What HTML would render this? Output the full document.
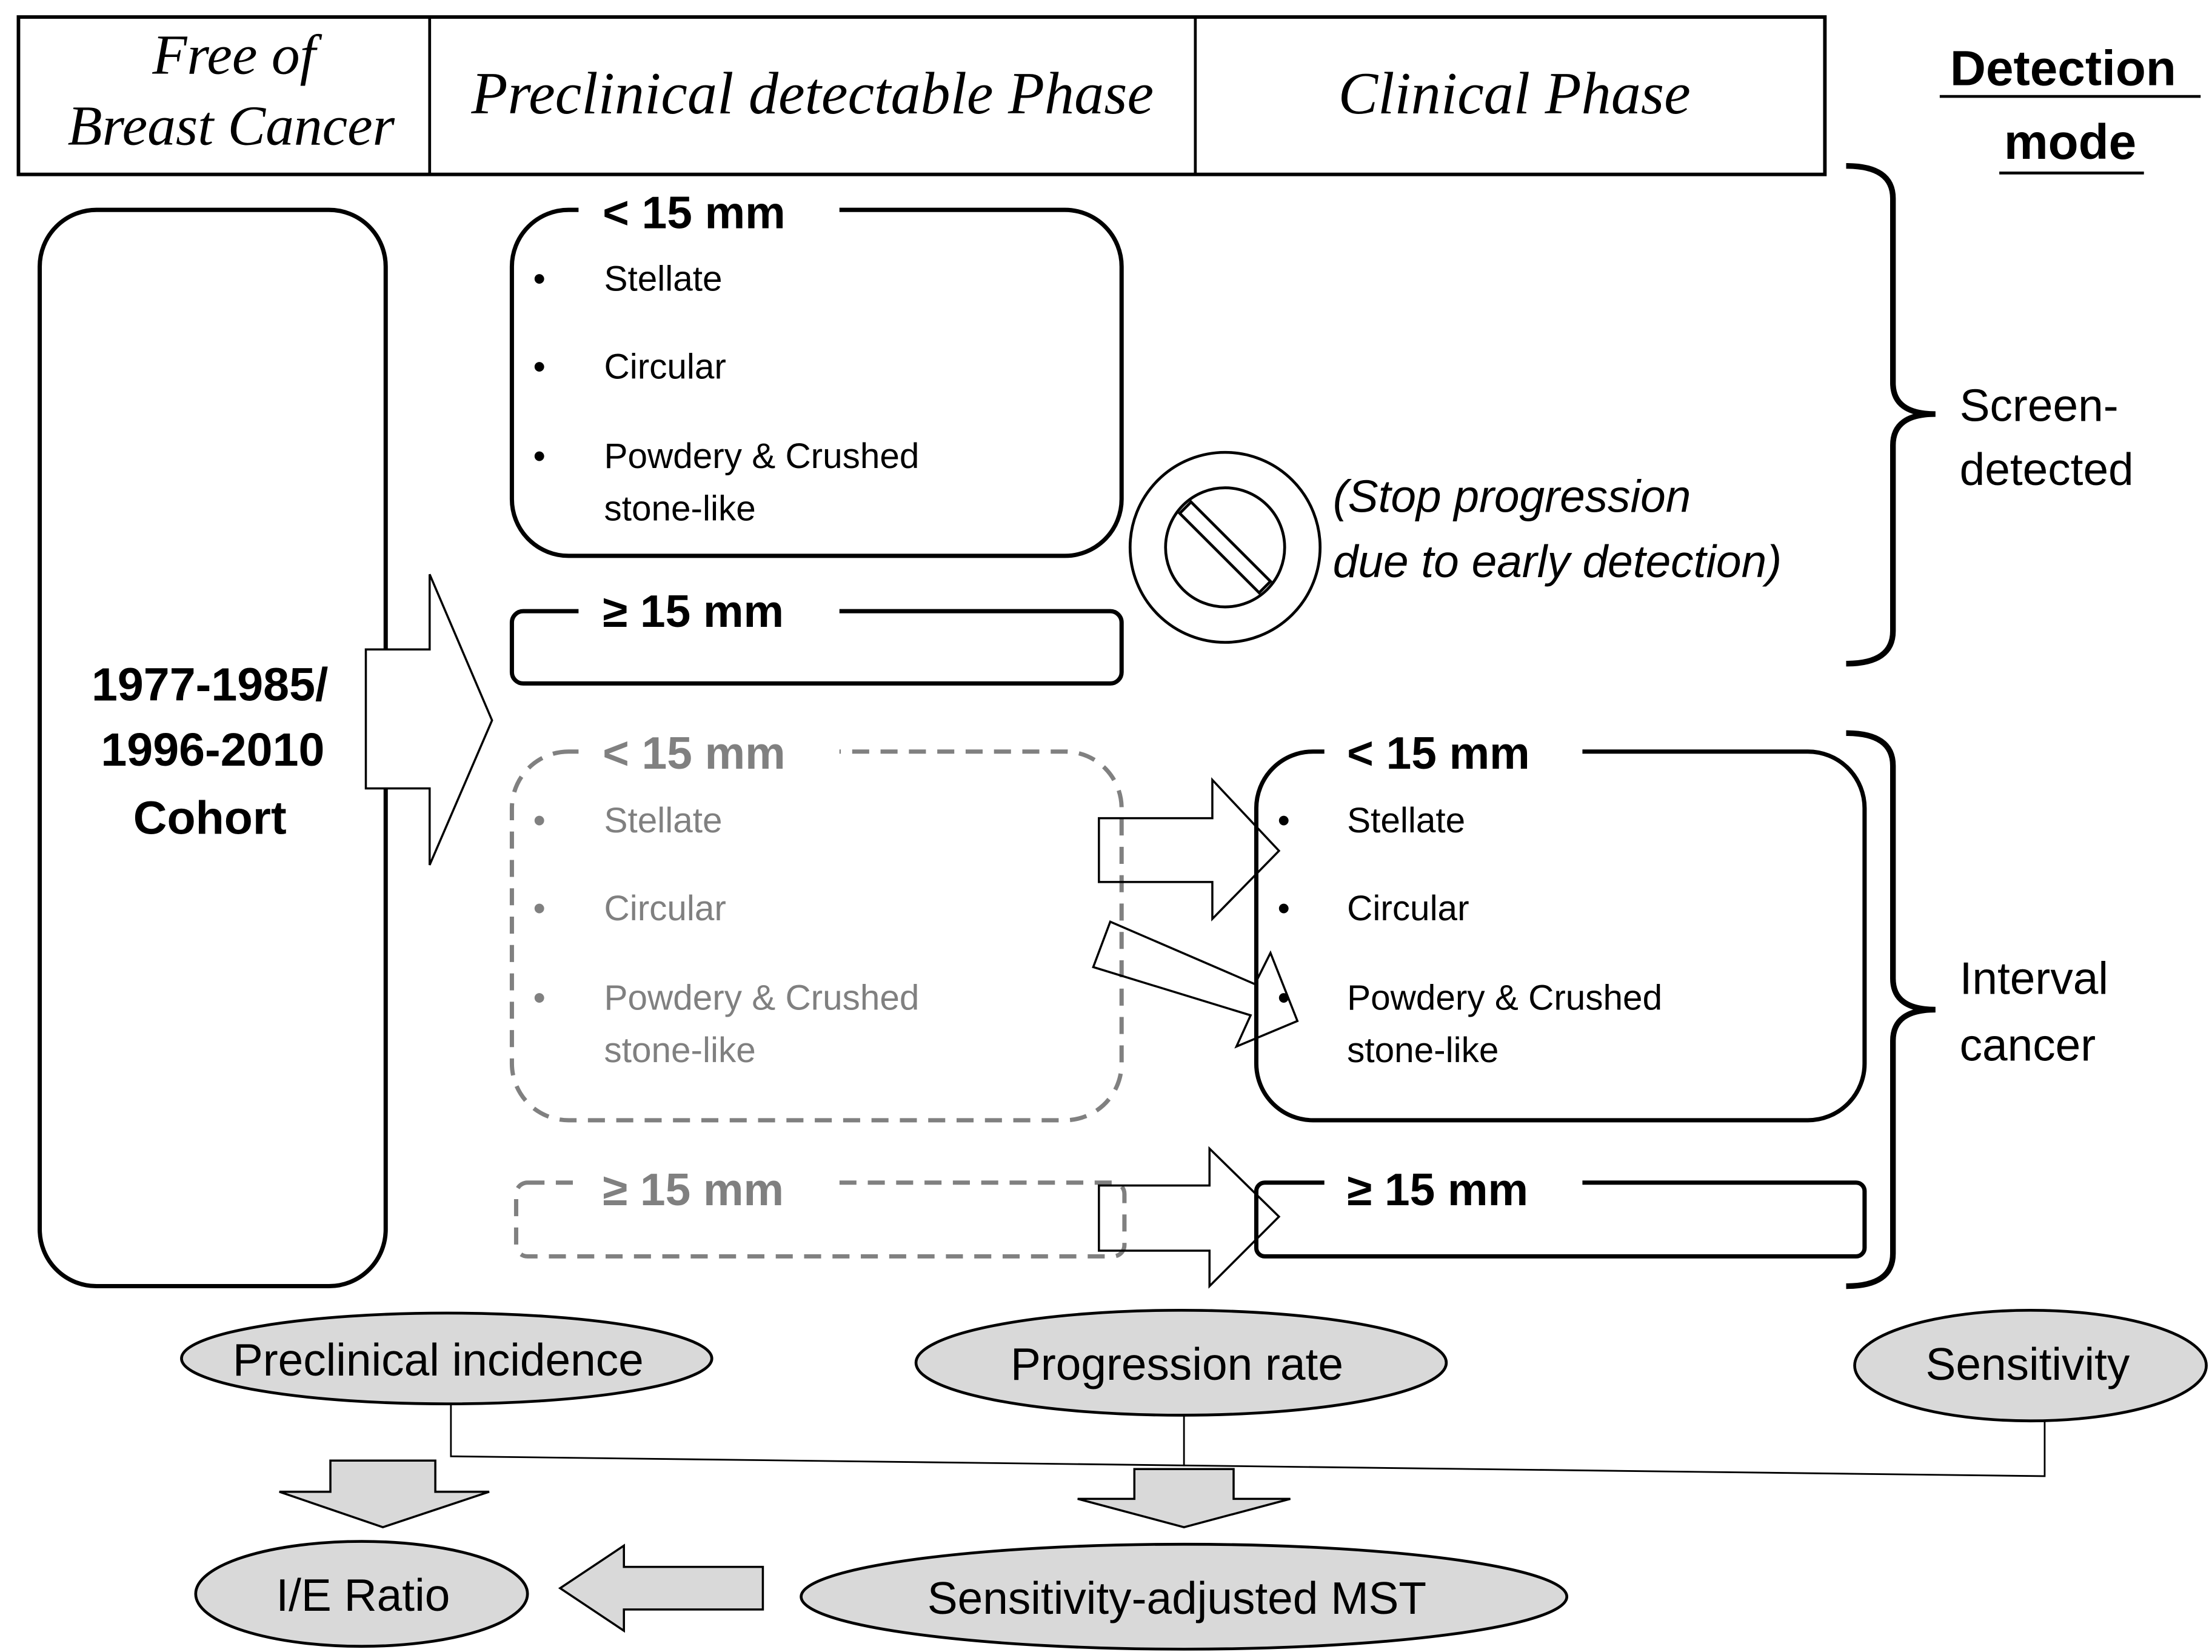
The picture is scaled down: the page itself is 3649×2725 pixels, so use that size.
<!DOCTYPE html>
<html><head><meta charset="utf-8"><style>html,body{margin:0;padding:0;background:#fff}svg{display:block}</style></head>
<body>
<svg xmlns="http://www.w3.org/2000/svg" width="3649" height="2725" viewBox="0 0 1560 1165" font-family="Liberation Sans, DejaVu Sans, sans-serif">
<rect width="1560" height="1165" fill="#fff"/>
<!-- header -->
<rect x="13" y="12" width="1274" height="111" fill="none" stroke="#000" stroke-width="2.5"/>
<line x1="303" y1="12" x2="303" y2="123" stroke="#000" stroke-width="2"/>
<line x1="843" y1="12" x2="843" y2="123" stroke="#000" stroke-width="2"/>
<g font-family="Liberation Serif, serif" font-style="italic" text-anchor="middle" fill="#000">
<text x="165" y="52" font-size="40">Free of</text>
<text x="163" y="102" font-size="40">Breast Cancer</text>
<text x="573" y="80" font-size="42">Preclinical detectable Phase</text>
<text x="1068" y="80" font-size="42">Clinical Phase</text>
</g>
<g font-weight="bold" font-size="35" text-anchor="middle">
<text x="1455" y="60">Detection</text>
<text x="1460" y="112">mode</text>
</g>
<line x1="1368" y1="68" x2="1552" y2="68" stroke="#000" stroke-width="2"/>
<line x1="1410" y1="122" x2="1512" y2="122" stroke="#000" stroke-width="2"/>
<!-- cohort -->
<rect x="28" y="148" width="244" height="759" rx="40" fill="none" stroke="#000" stroke-width="3"/>
<g font-weight="bold" font-size="33" text-anchor="middle">
<text x="148" y="494">1977-1985/</text>
<text x="150" y="540">1996-2010</text>
<text x="148" y="588">Cohort</text>
</g>
<polygon points="258,458 303,458 303,405 347,508 303,610 303,556 258,556" fill="#fff" stroke="#000" stroke-width="1.5"/>
<!-- box1 -->
<rect x="361" y="148" width="430" height="244" rx="40" fill="none" stroke="#000" stroke-width="3"/>
<rect x="408" y="135" width="184" height="30" fill="#fff"/>
<text x="425" y="161" font-size="32" font-weight="bold">&lt; 15 mm</text>
<g font-size="25">
<text x="376" y="205">•</text><text x="426" y="205">Stellate</text>
<text x="376" y="267">•</text><text x="426" y="267">Circular</text>
<text x="376" y="330">•</text><text x="426" y="330">Powdery &amp; Crushed</text>
<text x="426" y="367">stone-like</text>
</g>
<rect x="361" y="431" width="430" height="51" rx="8" fill="none" stroke="#000" stroke-width="3"/>
<rect x="408" y="418" width="184" height="28" fill="#fff"/>
<text x="425" y="442" font-size="32" font-weight="bold">≥ 15 mm</text>
<!-- stop -->
<circle cx="864" cy="386" r="67" fill="#fff" stroke="#000" stroke-width="2"/>
<circle cx="864" cy="386" r="42" fill="none" stroke="#000" stroke-width="2"/>
<polygon points="832,362 840,354 896,410 888,418" fill="#fff" stroke="#000" stroke-width="2"/>
<g font-style="italic" font-size="32">
<text x="940" y="361">(Stop progression</text>
<text x="940" y="407">due to early detection)</text>
</g>
<path d="M1302,117 Q1335,117 1335,140 L1335,270 Q1335,292 1365,292 Q1335,292 1335,314 L1335,445 Q1335,468 1302,468" fill="none" stroke="#000" stroke-width="4"/>
<g font-size="32"><text x="1382" y="297">Screen-</text><text x="1382" y="342">detected</text>
<text x="1382" y="701">Interval</text><text x="1382" y="748">cancer</text></g>
<!-- dashed -->
<rect x="361" y="530" width="430" height="260" rx="40" fill="none" stroke="#808080" stroke-width="3" stroke-dasharray="12,8"/>
<rect x="408" y="517" width="184" height="30" fill="#fff"/>
<g fill="#808080">
<text x="425" y="542" font-size="32" font-weight="bold">&lt; 15 mm</text>
<g font-size="25">
<text x="376" y="587">•</text><text x="426" y="587">Stellate</text>
<text x="376" y="649">•</text><text x="426" y="649">Circular</text>
<text x="376" y="712">•</text><text x="426" y="712">Powdery &amp; Crushed</text>
<text x="426" y="749">stone-like</text>
</g>
<rect x="364" y="834" width="429" height="52" rx="8" fill="none" stroke="#808080" stroke-width="3" stroke-dasharray="12,8"/>
<rect x="408" y="822" width="184" height="28" fill="#fff"/>
<text x="425" y="850" font-size="32" font-weight="bold">≥ 15 mm</text>
</g>
<!-- clinical -->
<rect x="886" y="530" width="429" height="260" rx="40" fill="none" stroke="#000" stroke-width="3"/>
<rect x="934" y="517" width="182" height="30" fill="#fff"/>
<text x="950" y="542" font-size="32" font-weight="bold">&lt; 15 mm</text>
<g font-size="25">
<text x="901" y="587">•</text><text x="950" y="587">Stellate</text>
<text x="901" y="649">•</text><text x="950" y="649">Circular</text>
<text x="901" y="712">•</text><text x="950" y="712">Powdery &amp; Crushed</text>
<text x="950" y="749">stone-like</text>
</g>
<rect x="886" y="834" width="429" height="52" rx="6" fill="none" stroke="#000" stroke-width="3"/>
<rect x="934" y="822" width="182" height="28" fill="#fff"/>
<text x="950" y="850" font-size="32" font-weight="bold">≥ 15 mm</text>
<!-- arrows -->
<polygon points="775,577 855,577 855,550 902,600 855,648 855,622 775,622" fill="none" stroke="#000" stroke-width="1.5"/>
<polygon points="783,650 885,694 896,672 915,720 872,738 882,716 771,682" fill="none" stroke="#000" stroke-width="1.5"/>
<polygon points="775,836 853,836 853,810 902,858 853,907 853,882 775,882" fill="none" stroke="#000" stroke-width="1.5"/>
<path d="M1302,517 Q1335,517 1335,540 L1335,690 Q1335,712 1365,712 Q1335,712 1335,734 L1335,884 Q1335,907 1302,907" fill="none" stroke="#000" stroke-width="4"/>
<!-- bottom -->
<polyline points="318,990 318,1027 1442,1041 1442,1000" fill="none" stroke="#000" stroke-width="1.2"/>
<line x1="835" y1="998" x2="835" y2="1034" stroke="#000" stroke-width="1.2"/>
<g fill="#d9d9d9" stroke="#000" stroke-width="2">
<ellipse cx="315" cy="958" rx="187" ry="32"/>
<ellipse cx="833" cy="961" rx="187" ry="37"/>
<ellipse cx="1432" cy="963" rx="124" ry="39"/>
<ellipse cx="255" cy="1124" rx="117" ry="37"/>
<ellipse cx="835" cy="1126" rx="270" ry="37"/>
<polygon points="233,1030 307,1030 307,1052 345,1052 270,1077 197,1052 233,1052" stroke-width="1.5"/>
<polygon points="800,1036 870,1036 870,1057 910,1057 835,1077 760,1057 800,1057" stroke-width="1.5"/>
<polygon points="538,1105 440,1105 440,1090 395,1120 440,1150 440,1135 538,1135" stroke-width="1.5"/>
</g>
<g font-size="32" text-anchor="middle">
<text x="309" y="970">Preclinical incidence</text>
<text x="830" y="973">Progression rate</text>
<text x="1430" y="973">Sensitivity</text>
<text x="256" y="1136">I/E Ratio</text>
<text x="830" y="1138">Sensitivity-adjusted MST</text>
</g>
</svg>
</body></html>
